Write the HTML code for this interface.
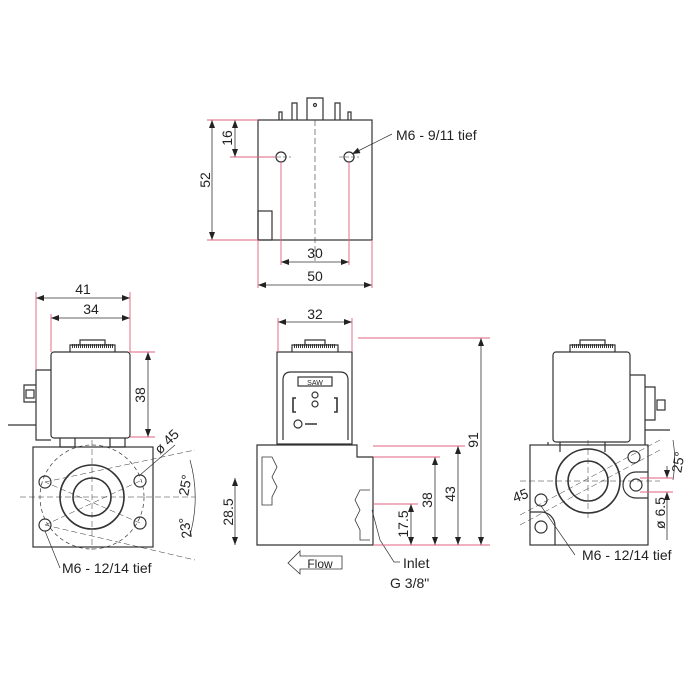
<!DOCTYPE html>
<html><head><meta charset="utf-8"><style>
html,body{margin:0;padding:0;background:#fff}
svg{display:block}
text{font-family:"Liberation Sans",sans-serif;fill:#222}
.d{stroke-width:0.8;marker-start:url(#s);marker-end:url(#e)}
</style></head><body>
<svg width="700" height="700" viewBox="0 0 700 700" xmlns="http://www.w3.org/2000/svg">
<defs>
<marker id="e" markerWidth="8" markerHeight="6" refX="8" refY="3" orient="auto" markerUnits="userSpaceOnUse"><path d="M0,0 L8,3 L0,6 z" fill="#222" stroke="none"/></marker>
<marker id="s" markerWidth="8" markerHeight="6" refX="0" refY="3" orient="auto" markerUnits="userSpaceOnUse"><path d="M8,0 L0,3 L8,6 z" fill="#222" stroke="none"/></marker>
</defs>
<g fill="none" stroke="#333" stroke-width="1.2">
<!-- TOP VIEW -->
<rect x="258" y="120" width="114" height="120"/>
<rect x="258" y="211" width="14" height="29"/>
<path d="M307,120 V98 h16 V120 M292,120 V103 h5 V120 M335,120 V103 h5 V120 M279,120 V112 h3 V120 M348,120 V112 h3 V120"/>
<circle cx="315" cy="105" r="1.5"/>
<circle cx="281" cy="157" r="5"/><circle cx="349" cy="157" r="5"/>
<path d="M315,120 V262" stroke-dasharray="6,3" stroke-width="0.6"/>
<path d="M271,157 h20 M339,157 h20" stroke-width="0.5" stroke-dasharray="4,2"/>
<line class="d" x1="212" y1="120" x2="212" y2="240"/>
<line class="d" x1="235" y1="120" x2="235" y2="157"/>
<line class="d" x1="281" y1="262" x2="349" y2="262"/>
<line class="d" x1="258" y1="285" x2="372" y2="285"/>
<path d="M392,134 L352,154" stroke-width="0.7" marker-end="url(#e)"/>
<!-- LEFT VIEW -->
<rect x="51" y="352" width="79" height="86" rx="3"/>
<path d="M70,352 V345 h45 V352 M80,345 V340 h25 V345"/>
<path d="M72,346 h41" stroke-width="4" stroke-dasharray="1,1"/>
<path d="M51,370 H36 V440 H51 M36,385 H24 V402 H36 M8,425 H36"/>
<rect x="26" y="390" width="8" height="8"/>
<path d="M60,438 V447 H75 V438 M110,438 V447 H125 V438"/>
<rect x="33" y="447" width="120" height="100"/>
<circle cx="92" cy="497" r="52" stroke-dasharray="4,3" stroke-width="0.7"/>
<circle cx="92" cy="497" r="32" stroke-width="1.6"/>
<circle cx="92" cy="497" r="19" stroke-width="1.6"/>
<circle cx="45" cy="482" r="6"/><circle cx="140" cy="481" r="6"/><circle cx="45" cy="525" r="6"/><circle cx="140" cy="523" r="6"/>
<path d="M20,497 H195 M92,440 V550 M45,482 L195,450 M45,525 L195,560 M140,481 L45,525 M140,523 L45,482" stroke-width="0.5" stroke-dasharray="6,3"/>
<path d="M190,460 A140,140 0 0 1 190,535" stroke-width="0.7"/>
<line class="d" x1="148" y1="352" x2="148" y2="437"/>
<line class="d" x1="36" y1="298" x2="130" y2="298"/>
<line class="d" x1="51" y1="318" x2="130" y2="318"/>
<line class="d" x1="235" y1="478" x2="235" y2="545"/>
<path d="M140,475 L175,445 M45,531 L60,568" stroke-width="0.7"/>
<!-- MIDDLE VIEW -->
<rect x="277" y="352" width="75" height="92"/>
<path d="M292,352 V345 h46 V352 M305,345 V340 h20 V345"/>
<path d="M294,346 h42" stroke-width="4" stroke-dasharray="1,1"/>
<path d="M283,440 V380 q0,-8 8,-8 H340 q8,0 8,8 V440"/>
<rect x="298" y="377" width="34" height="9"/>
<circle cx="315" cy="404" r="3"/><circle cx="315" cy="395" r="3"/><circle cx="298" cy="424" r="4"/>
<path d="M296,398 h-3 v14 h3 M334,398 h3 v14 h-3 M305,424 h12" stroke-width="1.6"/>
<path d="M257,545 V445 H357 V457 H373 V545 Z"/>
<path d="M262,457 h10 l5,10 -5,10 5,10 -5,10 v8 h-10 z M370,490 h-10 l-5,10 5,10 -5,10 5,10 v10 h10" stroke-width="0.8"/>
<line class="d" x1="278" y1="322" x2="352" y2="322"/>
<line class="d" x1="481" y1="338" x2="481" y2="545"/>
<line class="d" x1="458" y1="446" x2="458" y2="545"/>
<line class="d" x1="435" y1="457" x2="435" y2="545"/>
<line class="d" x1="411" y1="504" x2="411" y2="545"/>
<path d="M342,556 H300 V551 L288,563 L300,574 V569 H342 Z" stroke-width="0.8"/>
<path d="M372,510 L380,540 L394,562 H400" stroke-width="0.7"/>
<!-- RIGHT VIEW -->
<rect x="553" y="352" width="77" height="90" rx="3"/>
<path d="M570,352 V345 h45 V352 M580,345 V340 h25 V345"/>
<path d="M572,346 h41" stroke-width="4" stroke-dasharray="1,1"/>
<path d="M630,375 H645 V445 M645,387 H655 V420 H645 M645,430 H670"/>
<rect x="657" y="400" width="8" height="10"/>
<path d="M548,442 V445 M560,442 V452 M605,442 V452"/>
<rect x="530" y="445" width="118" height="100"/>
<circle cx="588" cy="481" r="32" stroke-width="1.6"/>
<circle cx="588" cy="481" r="20" stroke-width="1.6"/>
<circle cx="634" cy="457" r="6"/>
<path d="M648,472 H636 a13,13 0 0 0 0,26 H648"/>
<circle cx="636" cy="485" r="6"/>
<circle cx="541" cy="500" r="6"/>
<path d="M530,512 H541 a14,14 0 0 1 14,14 V545"/>
<circle cx="541" cy="527" r="6"/>
<path d="M520,481 H660 M588,440 V520 M520,515 L660,440 M520,525 L660,450" stroke-width="0.5" stroke-dasharray="6,3"/>
<path d="M673,440 A120,120 0 0 1 673,480" stroke-width="0.7"/>
<line x1="667" y1="466" x2="667" y2="478" stroke-width="0.8" marker-end="url(#e)"/>
<line x1="667" y1="540" x2="667" y2="492" stroke-width="0.8" marker-end="url(#e)"/>
<path d="M541,506 L575,555" stroke-width="0.7"/>
</g>
<g stroke="#e0607f" stroke-width="0.9" fill="none">
<path d="M207,120 H258 M230,157 H275 M207,240 H258 M281,162 V265 M349,162 V265 M258,240 V288 M372,240 V288"/>
<path d="M36,292 V370 M51,314 V352 M130,292 V352 M130,352 H155 M130,437 H155"/>
<path d="M278,318 V352 M352,318 V352 M358,338 H490 M373,446 H465 M373,457 H440 M373,504 H418 M373,545 H490"/>
<path d="M640,478 H673 M640,492 H673"/>
</g>
<text x="396" y="140" font-size="14">M6 - 9/11 tief</text>
<text x="315" y="258" font-size="14" text-anchor="middle">30</text>
<text x="315" y="281" font-size="14" text-anchor="middle">50</text>
<text transform="translate(210,180) rotate(-90)" font-size="14" text-anchor="middle">52</text>
<text transform="translate(232,138) rotate(-90)" font-size="14" text-anchor="middle">16</text>
<text x="83" y="294" font-size="14" text-anchor="middle">41</text>
<text x="91" y="314" font-size="14" text-anchor="middle">34</text>
<text transform="translate(145,395) rotate(-90)" font-size="14" text-anchor="middle">38</text>
<text transform="translate(170,445) rotate(-45)" font-size="14" text-anchor="middle">ø 45</text>
<text transform="translate(190,486) rotate(-80)" font-size="14" text-anchor="middle">25°</text>
<text transform="translate(190,527) rotate(-100)" font-size="14" text-anchor="middle">23°</text>
<text x="62" y="573" font-size="14">M6 - 12/14 tief</text>
<text x="315" y="319" font-size="14" text-anchor="middle">32</text>
<text transform="translate(233,512) rotate(-90)" font-size="14" text-anchor="middle">28.5</text>
<text transform="translate(478,440) rotate(-90)" font-size="14" text-anchor="middle">91</text>
<text transform="translate(455,494) rotate(-90)" font-size="14" text-anchor="middle">43</text>
<text transform="translate(432,500) rotate(-90)" font-size="14" text-anchor="middle">38</text>
<text transform="translate(408,524) rotate(-90)" font-size="14" text-anchor="middle">17.5</text>
<text x="320" y="568" font-size="12" text-anchor="middle">Flow</text>
<text x="315" y="385" font-size="7" text-anchor="middle">SAW</text>
<text x="403" y="568" font-size="14">Inlet</text>
<text x="390" y="588" font-size="14">G 3/8"</text>
<text transform="translate(522,500) rotate(-20)" font-size="14" text-anchor="middle">45</text>
<text transform="translate(683,463) rotate(-80)" font-size="14" text-anchor="middle">25°</text>
<text transform="translate(665,513) rotate(-90)" font-size="14" text-anchor="middle">ø 6.5</text>
<text x="582" y="560" font-size="14">M6 - 12/14 tief</text>
</svg>
</body></html>
